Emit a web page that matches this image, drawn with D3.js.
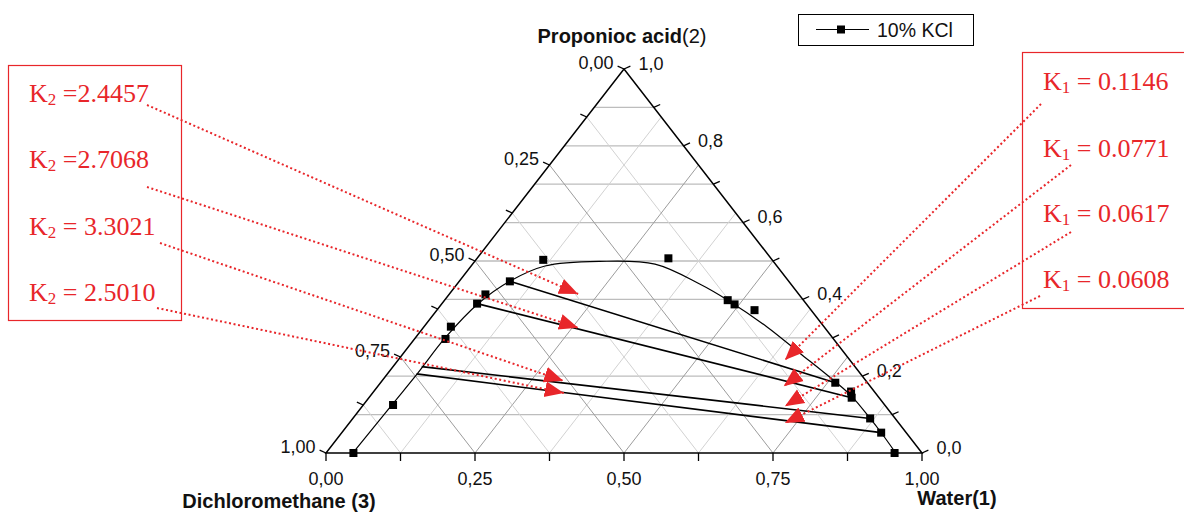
<!DOCTYPE html>
<html>
<head>
<meta charset="utf-8">
<script src="https://cdn.jsdelivr.net/npm/d3@7"></script>
<style>
  body { margin: 0; background: #fff; }
</style>
</head>
<body>
<svg id="chart" width="1184" height="512" font-family="'Liberation Sans', Arial, sans-serif"></svg>
<script>
// compositions are mass fractions: water (1), propionic acid (2); DCM (3) = 1 - w - p
const pointWater = [0.046, 0.050, 0.052, 0.045, 0.059, 0.061, 0.085, 0.113, 0.321,
                    0.475, 0.492, 0.533, 0.763, 0.801, 0.810, 0.868, 0.905, 0.954];
const pointAcid  = [0.000, 0.125, 0.297, 0.329, 0.389, 0.413, 0.447, 0.503, 0.507,
                    0.398, 0.387, 0.372, 0.183, 0.160, 0.144, 0.090, 0.053, 0.000];

// fitted binodal curve
const curveWater = [0.045, 0.048, 0.050, 0.050, 0.061, 0.085, 0.124, 0.210, 0.306,
                    0.407, 0.475, 0.575, 0.665, 0.756, 0.809, 0.868, 0.904, 0.955];
const curveAcid  = [0.001, 0.128, 0.208, 0.299, 0.390, 0.448, 0.487, 0.499, 0.492,
                    0.440, 0.398, 0.329, 0.260, 0.190, 0.147, 0.090, 0.054, 0.001];

// tie lines: organic end -> aqueous end
const tieOrgWater = [0.085, 0.059, 0.048, 0.049];
const tieOrgAcid  = [0.447, 0.389, 0.225, 0.206];
const tieAqWater  = [0.763, 0.810, 0.868, 0.905];
const tieAqAcid   = [0.183, 0.144, 0.090, 0.053];

const k2Labels = [" =2.4457", " =2.7068", " = 3.3021", " = 2.5010"];
const k1Labels = [" = 0.1146", " = 0.0771", " = 0.0617", " = 0.0608"];
// where the arrows point (composition)
const k2TipWater = [0.216, 0.260, 0.304, 0.321];
const k2TipAcid  = [0.414, 0.326, 0.188, 0.156];
const k1TipWater = [0.649, 0.681, 0.709, 0.731];
const k1TipAcid  = [0.242, 0.174, 0.122, 0.078];

const bottomTicks = d3.range(0, 1.0001, 0.125);
const leftTicks = d3.range(0, 1.0001, 0.125);
const rightTicks = d3.range(0, 1.0001, 0.1);
const acidGrid = d3.range(0.1, 0.95, 0.1);

const red = "#e8262a";
const svg = d3.select("#chart");

const sx = d3.scaleLinear().domain([0, 1]).range([326, 922]);
const sy = d3.scaleLinear().domain([0, 1]).range([453, 69]);
function proj(w, p) { return [sx(w + p / 2), sy(p)]; }
const fmt2 = v => d3.format(".2f")(v).replace(".", ",");
const fmt1 = v => d3.format(".1f")(v).replace(".", ",");

const line = d3.line();

// grid
const grid = svg.append("g").attr("fill", "none");
acidGrid.forEach(p => {
  grid.append("path").attr("d", line([proj(0, p), proj(1 - p, p)]))
    .attr("stroke", "#bdbdbd").attr("stroke-width", 1.3);
});
d3.range(1, 8).forEach(k => {
  const v = k / 8, major = k % 2 === 0;
  const col = major ? "#9c9c9c" : "#d2d2d2";
  // constant water
  grid.append("path").attr("d", line([proj(v, 0), proj(v, 1 - v)]))
    .attr("stroke", col).attr("stroke-width", 1);
  // constant DCM
  grid.append("path").attr("d", line([proj(1 - v, 0), proj(0, 1 - v)]))
    .attr("stroke", col).attr("stroke-width", 1);
});

// frame
svg.append("path")
  .attr("d", line([proj(0, 0), proj(1, 0), proj(0, 1)]) + "Z")
  .attr("fill", "none").attr("stroke", "#000").attr("stroke-width", 1.5);

const axes = svg.append("g").attr("stroke", "#000").attr("stroke-width", 1.3);
const lab = svg.append("g").attr("font-size", 18).attr("fill", "#111");
const tl = 7;
// bottom axis (water)
bottomTicks.forEach((v, i) => {
  const [x, y] = proj(v, 0);
  axes.append("line").attr("x1", x).attr("y1", y).attr("x2", x).attr("y2", y + tl + 1);
  if (i % 2 === 0) lab.append("text").attr("x", x).attr("y", y + 32)
    .attr("text-anchor", "middle").text(fmt2(v));
});
// left axis (DCM, 0 at top)
const ln = Math.hypot(1, 0.45);
leftTicks.forEach((d, i) => {
  const [x, y] = proj(0, 1 - d);
  const x2 = x - tl / ln, y2 = y - tl * 0.45 / ln;
  axes.append("line").attr("x1", x).attr("y1", y).attr("x2", x2).attr("y2", y2);
  if (i % 2 === 0) lab.append("text").attr("x", x2 - 4).attr("y", y2 - 2)
    .attr("text-anchor", "end").attr("dominant-baseline", "middle").text(fmt2(d));
});
// right axis (propionic acid)
rightTicks.forEach((p, i) => {
  const [x, y] = proj(1 - p, p);
  const x2 = x + tl / ln, y2 = y - tl * 0.45 / ln;
  axes.append("line").attr("x1", x).attr("y1", y).attr("x2", x2).attr("y2", y2);
  if (i % 2 === 0) lab.append("text").attr("x", x2 + 8).attr("y", y2 - 1)
    .attr("dominant-baseline", "middle").text(fmt1(p));
});

// axis titles
const t1 = svg.append("text").attr("x", 622).attr("y", 43).attr("text-anchor", "middle")
  .attr("font-size", 20).attr("fill", "#111");
t1.append("tspan").attr("font-weight", "bold").text("Proponioc acid");
t1.append("tspan").text("(2)");
svg.append("text").attr("x", 279).attr("y", 508).attr("text-anchor", "middle")
  .attr("font-size", 20).attr("font-weight", "bold").attr("fill", "#111").text("Dichloromethane (3)");
svg.append("text").attr("x", 957).attr("y", 505).attr("text-anchor", "middle")
  .attr("font-size", 20).attr("font-weight", "bold").attr("fill", "#111").text("Water(1)");

// binodal curve
const curvePts = curveWater.map((w, i) => proj(w, curveAcid[i]));
svg.append("path").attr("d", d3.line().curve(d3.curveCatmullRom.alpha(0.5))(curvePts))
  .attr("fill", "none").attr("stroke", "#000").attr("stroke-width", 1.2);

// tie lines
tieOrgWater.forEach((w, i) => {
  svg.append("path").attr("d", line([proj(w, tieOrgAcid[i]), proj(tieAqWater[i], tieAqAcid[i])]))
    .attr("fill", "none").attr("stroke", "#000").attr("stroke-width", 1.6);
});

// data points
svg.append("g").selectAll("rect").data(pointWater).join("rect")
  .attr("x", (w, i) => proj(w, pointAcid[i])[0] - 4)
  .attr("y", (w, i) => proj(w, pointAcid[i])[1] - 4)
  .attr("width", 8).attr("height", 8).attr("fill", "#000");

// legend
const lg = svg.append("g");
lg.append("rect").attr("x", 798.5).attr("y", 14.5).attr("width", 175).attr("height", 31)
  .attr("fill", "#fff").attr("stroke", "#000").attr("stroke-width", 1);
lg.append("line").attr("x1", 816).attr("x2", 869).attr("y1", 29.5).attr("y2", 29.5)
  .attr("stroke", "#000").attr("stroke-width", 1.2);
lg.append("rect").attr("x", 837).attr("y", 25.5).attr("width", 8).attr("height", 8).attr("fill", "#000");
lg.append("text").attr("x", 877).attr("y", 37).attr("font-size", 19.5).attr("fill", "#111").text("10% KCl");

// annotations
svg.append("defs").append("marker").attr("id", "arr")
  .attr("viewBox", "0 -9 20 18").attr("refX", 19).attr("refY", 0)
  .attr("markerWidth", 20).attr("markerHeight", 18)
  .attr("markerUnits", "userSpaceOnUse").attr("orient", "auto")
  .append("path").attr("d", "M0,-8L19,0L0,8Z").attr("fill", red);

const ann = svg.append("g");
ann.append("rect").attr("x", 8.5).attr("y", 65.5).attr("width", 173).attr("height", 255)
  .attr("fill", "none").attr("stroke", red).attr("stroke-width", 1.2);
ann.append("rect").attr("x", 1022.5).attr("y", 52.5).attr("width", 200).attr("height", 256)
  .attr("fill", "none").attr("stroke", red).attr("stroke-width", 1.2);

const k2Text = [[29, 102], [29, 168], [29, 235], [29, 301]];
const k2From = [[147, 105], [147, 187], [160, 243], [157, 308]];
const k1Text = [[1043, 90], [1043, 157], [1043, 222], [1043, 288]];
const k1From = [[1041, 104], [1071, 165], [1071, 232], [1040, 296]];

function kLabel(pos, sub, rest) {
  const t = ann.append("text").attr("x", pos[0]).attr("y", pos[1])
    .attr("font-family", "'Liberation Serif', 'Times New Roman', serif")
    .attr("font-size", 26).attr("fill", red);
  t.append("tspan").text("K");
  t.append("tspan").attr("font-size", 17).attr("dy", 3).text(sub);
  t.append("tspan").attr("dy", -3).text(rest);
}
function arrow(from, to) {
  ann.append("path").attr("d", line([from, to]))
    .attr("fill", "none").attr("stroke", red).attr("stroke-width", 2)
    .attr("stroke-dasharray", "2,2.6").attr("marker-end", "url(#arr)");
}
k2Labels.forEach((s, i) => {
  kLabel(k2Text[i], "2", s);
  arrow(k2From[i], proj(k2TipWater[i], k2TipAcid[i]));
});
k1Labels.forEach((s, i) => {
  kLabel(k1Text[i], "1", s);
  arrow(k1From[i], proj(k1TipWater[i], k1TipAcid[i]));
});
</script>
</body>
</html>
